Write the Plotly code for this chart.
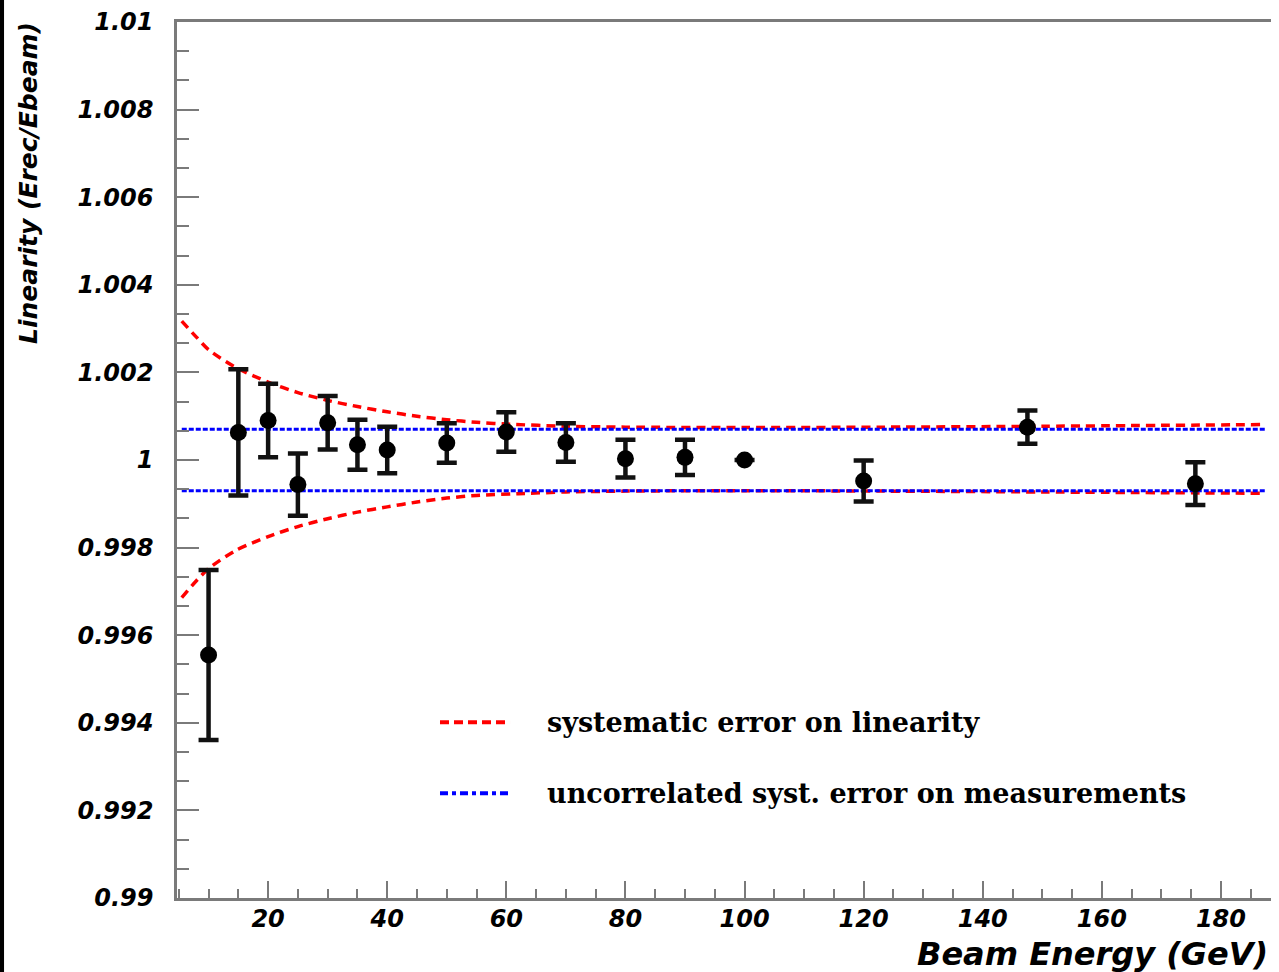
import plotly.graph_objects as go

# Measured linearity (Erec/Ebeam) versus beam energy
energy = [10, 15, 20, 25, 30, 35, 40, 50, 60, 70, 80, 90, 100, 120, 147.5, 175.7]
linearity = [0.99555, 1.00063, 1.00090, 0.99944, 1.00085, 1.00035, 1.00023,
             1.00039, 1.00064, 1.00040, 1.00003, 1.00006, 1.00000, 0.99952,
             1.00075, 0.99946]
lin_err = [0.00194, 0.00144, 0.00084, 0.00071, 0.00061, 0.00057, 0.00053,
           0.00045, 0.00045, 0.00044, 0.00043, 0.00040, 0.0, 0.00047,
           0.00038, 0.00049]

# Systematic error band on the linearity (upper / lower edges)
band_hi_e = [5.5, 8, 10, 14.5, 20, 25, 30, 35, 40, 45, 50, 55, 60, 70, 80,
             100, 123, 150, 187.5]
band_hi = [1.00317, 1.00280, 1.00252, 1.00212, 1.00178, 1.00154, 1.00136,
           1.00122, 1.00110, 1.00100, 1.00092, 1.00086, 1.00082, 1.00077,
           1.00075, 1.00074, 1.00075, 1.00077, 1.00081]
band_lo_e = [5.5, 8, 10, 14.5, 20, 25, 30, 35, 40, 45, 50, 55, 62, 70, 80,
             100, 123, 150, 187.5]
band_lo = [0.99686, 0.99725, 0.99752, 0.99793, 0.99825, 0.99848, 0.99866,
           0.99881, 0.99893, 0.99904, 0.99913, 0.99919, 0.99923, 0.99927,
           0.99929, 0.99930, 0.99929, 0.99927, 0.99924]

# Uncorrelated systematic error on the measurements
uncorr_e = [5.5, 187.5]
uncorr_hi = [1.0007, 1.0007]
uncorr_lo = [0.9993, 0.9993]

y_ticks = [0.99, 0.992, 0.994, 0.996, 0.998, 1.0, 1.002, 1.004, 1.006, 1.008, 1.01]
y_ticktext = ["0.99", "0.992", "0.994", "0.996", "0.998", "1", "1.002",
              "1.004", "1.006", "1.008", "1.01"]
x_ticks = [20, 40, 60, 80, 100, 120, 140, 160, 180]

legend_labels = ["systematic error on linearity",
                 "uncorrelated syst. error on measurements"]

RED = "#ff0000"
BLUE = "#0000ff"
AXIS = "#7a7a7a"
TICK_FONT = dict(family="DejaVu Sans", size=24, color="black",
                 weight="bold", style="italic")

fig = go.Figure()

for xs, ys in [(band_hi_e, band_hi), (band_lo_e, band_lo)]:
    fig.add_trace(go.Scatter(
        x=xs, y=ys, mode="lines",
        line=dict(color=RED, width=3.5, dash="9px,6px", shape="spline", smoothing=0.8),
        showlegend=False, hoverinfo="skip"))

for ys in [uncorr_hi, uncorr_lo]:
    fig.add_trace(go.Scatter(
        x=uncorr_e, y=ys, mode="lines",
        line=dict(color=BLUE, width=3, dash="5px,2px"),
        showlegend=False, hoverinfo="skip"))

fig.add_trace(go.Scatter(
    x=energy, y=linearity, mode="markers",
    marker=dict(color="black", size=17, symbol="circle"),
    error_y=dict(type="data", array=lin_err, visible=True,
                 color="#111111", thickness=4.5, width=10),
    showlegend=False))

# Hand-drawn legend inside the frame
leg_rows = [(0.2005, RED, "9px,5px"), (0.1196, BLUE, "8px,4px,4px,4px")]
for (ypos, col, dash), label in zip(leg_rows, legend_labels):
    fig.add_shape(type="line", xref="paper", yref="paper",
                  x0=0.2404, x1=0.3044, y0=ypos, y1=ypos,
                  line=dict(color=col, width=4, dash=dash))
    fig.add_annotation(xref="paper", yref="paper", x=0.3364, y=ypos,
                       xanchor="left", yanchor="middle", showarrow=False,
                       text=label,
                       font=dict(family="DejaVu Serif", size=27, color="black",
                                 weight="bold"))

# Axis titles
fig.add_annotation(xref="paper", yref="paper", x=0.9991, y=-0.0638,
                   xanchor="right", yanchor="middle", showarrow=False,
                   text="Beam Energy (GeV)",
                   font=dict(family="DejaVu Sans", size=32, color="black",
                             weight="bold", style="italic"))
fig.add_annotation(xref="paper", yref="paper", x=-0.1353, y=1.0023,
                   xanchor="center", yanchor="top", showarrow=False,
                   textangle=-90, text="Linearity (Erec/Ebeam)",
                   font=dict(family="DejaVu Sans", size=25, color="black",
                             weight="bold", style="italic"))

# Dark strip along the left edge of the page
fig.add_shape(type="rect", xref="paper", yref="paper",
              x0=-0.1618, x1=-0.1581, y0=-0.1, y1=1.03,
              line=dict(width=0), fillcolor="black", layer="above")

fig.update_xaxes(
    range=[4.7, 188.4], showgrid=False, zeroline=False,
    showline=True, linecolor=AXIS, linewidth=2.5, mirror=True,
    ticks="inside", ticklen=17, tickwidth=2, tickcolor=AXIS,
    tickvals=x_ticks, tickfont=TICK_FONT, ticklabelstandoff=-3,
    minor=dict(ticks="inside", ticklen=9, tickwidth=2, tickcolor=AXIS,
               dtick=5, tick0=0, showgrid=False))
fig.update_yaxes(
    range=[0.99, 1.01], showgrid=False, zeroline=False,
    showline=True, linecolor=AXIS, linewidth=2.5,
    ticks="inside", ticklen=22, tickwidth=2, tickcolor=AXIS,
    tickvals=y_ticks, ticktext=y_ticktext, tickfont=TICK_FONT,
    ticklabelstandoff=16,
    minor=dict(ticks="inside", ticklen=12, tickwidth=2, tickcolor=AXIS,
               dtick=0.002 / 3, tick0=0.99, showgrid=False))

fig.update_layout(
    width=1279, height=972,
    margin=dict(l=177, r=8, t=20, b=74, pad=0),
    paper_bgcolor="white", plot_bgcolor="white",
    showlegend=False)

fig.write_html("out.html")
